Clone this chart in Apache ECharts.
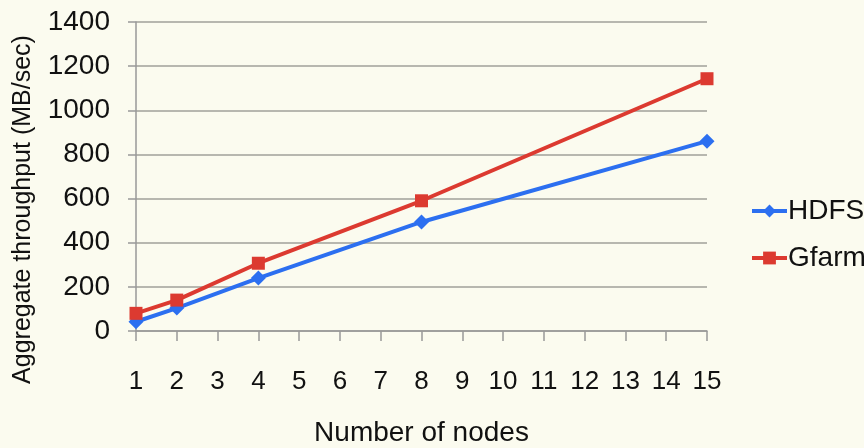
<!DOCTYPE html>
<html>
<head>
<meta charset="utf-8">
<script src="https://cdn.jsdelivr.net/npm/echarts@6/dist/echarts.min.js"></script>
<style>
html,body{margin:0;padding:0;background:#fbfbef;}
#c{width:864px;height:448px;}
</style>
</head>
<body>
<div id="c"></div>
<script>
const nodes = [1, 2, 4, 8, 15];
const hdfs = [42, 104, 240, 494, 860];
const gfarm = [80, 140, 307, 590, 1143];
const seriesNames = ['HDFS', 'Gfarm'];

const font = 'Liberation Sans, Arial, Helvetica, sans-serif';
const chart = echarts.init(document.getElementById('c'), null, {renderer: 'canvas'});
chart.setOption({
  backgroundColor: '#fbfbef',
  animation: false,
  grid: {left: 136, right: 157, top: 22, bottom: 117, containLabel: false, outerBoundsMode: 'none'},
  legend: {
    orient: 'vertical',
    left: 745,
    top: 192,
    itemWidth: 35,
    itemHeight: 16,
    itemGap: 19,
    lineStyle: {width: 4},
    textStyle: {fontFamily: font, fontSize: 28, color: '#111', padding: [0, 0, 0, -4]},
    data: seriesNames
  },
  xAxis: {
    type: 'value',
    min: 1, max: 15, interval: 1,
    name: 'Number of nodes',
    nameLocation: 'middle',
    nameGap: 88,
    nameTextStyle: {fontFamily: font, fontSize: 28, color: '#111'},
    axisLine: {show: true, lineStyle: {color: '#999', width: 1.5}},
    axisTick: {show: true, length: 10, lineStyle: {color: '#999', width: 1.5}},
    axisLabel: {fontFamily: font, fontSize: 26, color: '#111', margin: 38},
    splitLine: {show: false}
  },
  yAxis: {
    type: 'value',
    min: 0, max: 1400, interval: 200,
    name: 'Aggregate throughput (MB/sec)',
    nameLocation: 'middle',
    nameGap: 100,
    nameTextStyle: {fontFamily: font, fontSize: 25, color: '#111', padding: [0, 66, 0, 0]},
    axisLine: {show: true, lineStyle: {color: '#999', width: 1.5}},
    axisTick: {show: true, length: 8, lineStyle: {color: '#999', width: 1.5}},
    axisLabel: {fontFamily: font, fontSize: 28, color: '#111', margin: 26, formatter: v => String(v)},
    splitLine: {show: true, lineStyle: {color: '#a0a09a', width: 1.5}}
  },
  series: [
    {
      name: seriesNames[0],
      type: 'line',
      data: nodes.map((n, i) => [n, hdfs[i]]),
      symbol: 'diamond',
      symbolSize: 15,
      lineStyle: {color: '#2c6ff0', width: 4},
      itemStyle: {color: '#2c6ff0'}
    },
    {
      name: seriesNames[1],
      type: 'line',
      data: nodes.map((n, i) => [n, gfarm[i]]),
      symbol: 'rect',
      symbolSize: 13,
      lineStyle: {color: '#dc3a30', width: 4},
      itemStyle: {color: '#dc3a30'}
    }
  ]
});
</script>
</body>
</html>
